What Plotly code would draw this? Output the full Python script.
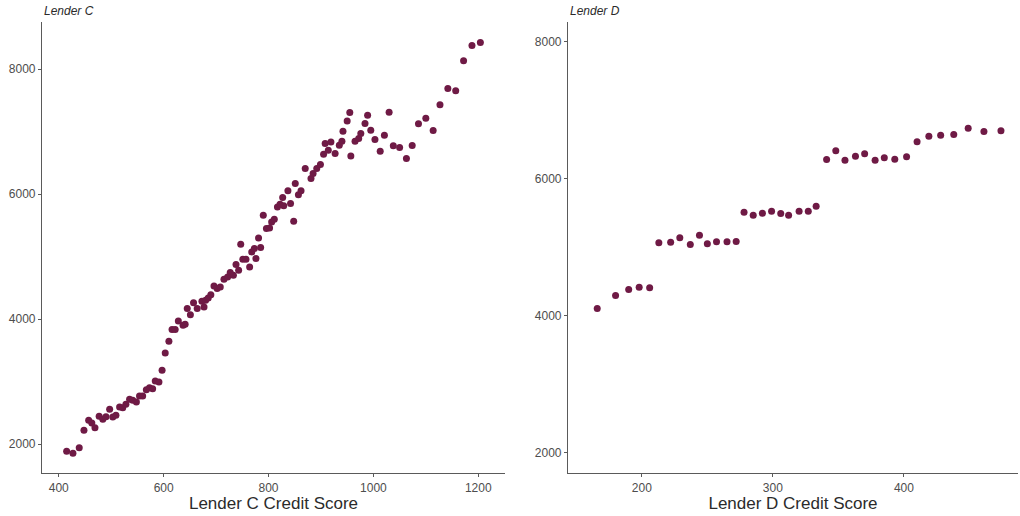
import plotly.graph_objects as go

# Lender C: credit score vs. loan amount
lender_c_score = [
    415, 427, 439, 448, 457, 463, 469, 477, 484, 490, 497, 503, 509, 516, 522,
    528, 535, 541, 548, 554, 560, 567, 573, 579, 584, 591, 597, 603, 610, 616,
    622, 628, 637, 641, 645, 651, 657, 664, 673, 677, 680, 685, 690, 696, 702,
    708, 715, 722, 727, 733, 738, 743, 747, 751, 757, 764, 768, 773, 776, 781,
    785, 790, 796, 802, 806, 811, 817, 822, 827, 829, 837, 842, 848, 851, 857,
    862, 870, 881, 885, 892, 899, 905, 908, 914, 919, 927, 935, 940, 942, 950,
    955, 957, 965, 972, 976, 984, 989, 995, 1003, 1013, 1021, 1030, 1038, 1050,
    1063, 1074, 1086, 1100, 1114, 1127, 1142, 1157, 1172, 1188, 1204,
]
lender_c_amount = [
    1883, 1851, 1942, 2219, 2379, 2336, 2262, 2443, 2395, 2438, 2555, 2432, 2459, 2592, 2582,
    2635, 2715, 2699, 2672, 2768, 2768, 2870, 2902, 2886, 3008, 2992, 3179, 3457, 3644, 3831,
    3831, 3969, 3900, 3916, 4168, 4069, 4261, 4168, 4285, 4194, 4301, 4338, 4389, 4530, 4488,
    4514, 4637, 4673, 4744, 4701, 4872, 4781, 5197, 4957, 4957, 4834, 5074, 5128, 4968, 5298,
    5144, 5661, 5448, 5458, 5554, 5597, 5794, 5837, 5945, 5813, 6053, 5849, 5565, 6168, 5990,
    6053, 6409, 6249, 6329, 6409, 6473, 6638, 6809, 6702, 6834, 6649, 6782, 6846, 7006, 7167,
    7306, 6610, 6846, 6889, 6969, 7129, 7262, 7022, 6873, 6686, 6942, 7310, 6771, 6745,
    6569, 6777, 7123, 7214, 7018, 7430, 7688, 7654, 8134, 8378, 8426,
]

# Lender D: credit score vs. loan amount
lender_d_score = [
    166, 180, 190, 198, 206, 213, 222, 229, 237, 244, 250, 257, 265, 272, 278,
    285, 292, 299, 306, 312, 320, 327, 333, 341, 348, 355, 363, 370, 378, 385,
    393, 402, 410, 419, 428, 438, 449, 461, 474,
]
lender_d_amount = [
    4105, 4295, 4383, 4417, 4408, 5066, 5075, 5139, 5041, 5177, 5051, 5080, 5080, 5085, 5513,
    5469, 5499, 5528, 5494, 5469, 5528, 5528, 5601, 6284, 6411, 6273, 6332, 6367, 6273, 6308,
    6288, 6323, 6542, 6624, 6639, 6649, 6741, 6693, 6703,
]

c_ticks_x = [400, 600, 800, 1000, 1200]
c_ticks_y = [2000, 4000, 6000, 8000]
d_ticks_x = [200, 300, 400]
d_ticks_y = [2000, 4000, 6000, 8000]

POINT = "#6f1a45"
AXIS = "#5a5a5a"
TICK_TXT = "#4d4d4d"
TITLE_TXT = "#2b2b2b"
FONT = "Liberation Sans, Arial, sans-serif"

W, H = 1020, 516
y_dom = [1 - 473 / H, 1 - 22 / H]

fig = go.Figure()
fig.add_trace(go.Scatter(
    x=lender_c_score, y=lender_c_amount, mode="markers",
    marker=dict(color=POINT, size=7, line=dict(width=0)),
    xaxis="x", yaxis="y", showlegend=False,
))
fig.add_trace(go.Scatter(
    x=lender_d_score, y=lender_d_amount, mode="markers",
    marker=dict(color=POINT, size=7, line=dict(width=0)),
    xaxis="x2", yaxis="y2", showlegend=False,
))

axis_common = dict(
    showgrid=False, zeroline=False, showline=True, linecolor=AXIS, linewidth=1.2,
    ticks="outside", ticklen=3, tickwidth=1, tickcolor=AXIS,
    tickfont=dict(family=FONT, size=12, color=TICK_TXT),
    mirror=False,
)
title_font = dict(family=FONT, size=17, color=TITLE_TXT)

fig.update_layout(
    width=W, height=H,
    margin=dict(l=0, r=0, t=0, b=0),
    paper_bgcolor="white", plot_bgcolor="white",
    font=dict(family=FONT),
    xaxis=dict(
        axis_common, domain=[42 / W, 505 / W], anchor="y",
        range=[368, 1251], tickvals=c_ticks_x,
        title=dict(text="Lender C Credit Score", font=title_font, standoff=3),
    ),
    yaxis=dict(
        axis_common, domain=y_dom, anchor="x",
        range=[1536, 8752], tickvals=c_ticks_y,
    ),
    xaxis2=dict(
        axis_common, domain=[568 / W, 1018 / W], anchor="y2",
        range=[143.7, 487], tickvals=d_ticks_x,
        title=dict(text="Lender D Credit Score", font=title_font, standoff=3),
    ),
    yaxis2=dict(
        axis_common, domain=y_dom, anchor="x2",
        range=[1703, 8292], tickvals=d_ticks_y,
    ),
    annotations=[
        dict(text="<i>Lender C</i>", xref="paper", yref="paper",
             x=42 / W, y=1 - 11 / H, xanchor="left", yanchor="middle",
             showarrow=False, font=dict(family=FONT, size=12, color=TITLE_TXT)),
        dict(text="<i>Lender D</i>", xref="paper", yref="paper",
             x=568 / W, y=1 - 11 / H, xanchor="left", yanchor="middle",
             showarrow=False, font=dict(family=FONT, size=12, color=TITLE_TXT)),
    ],
)

fig.write_html("out.html")
